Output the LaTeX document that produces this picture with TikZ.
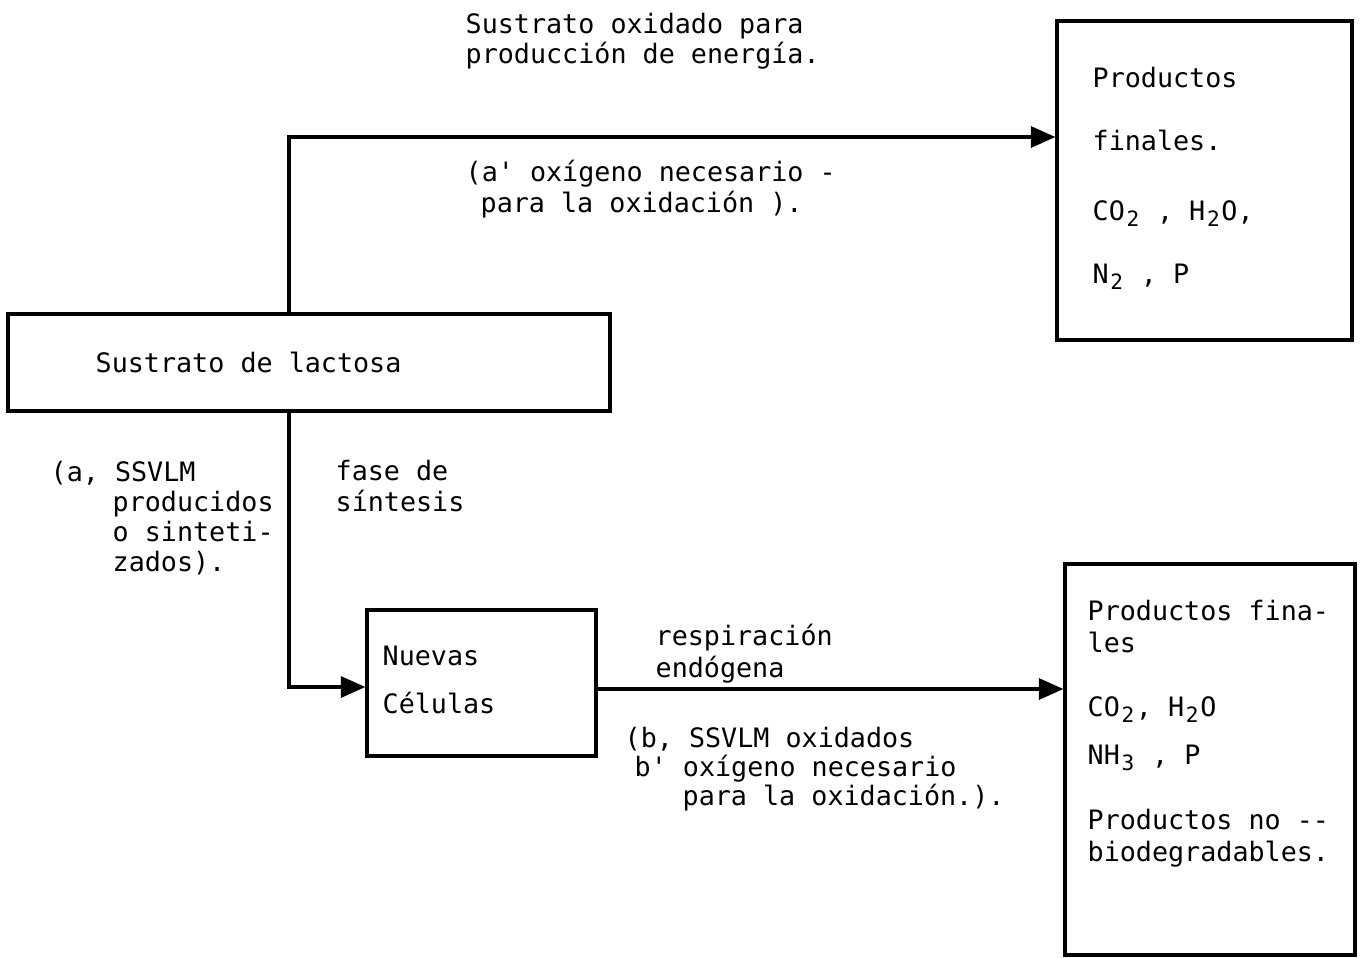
\documentclass[tikz,border=0pt]{standalone}
\usepackage{fontspec}
\newfontfamily\twfont{DejaVu Sans Mono}
\usetikzlibrary{arrows.meta,fit}
\newcommand\lowidx[1]{\makebox[4.575pt][c]{\raisebox{-0.45ex}{\fontsize{6pt}{6pt}\selectfont #1}}}
\tikzset{
  box/.style={draw, line width=0.9pt, inner sep=0pt, rectangle},
  txt/.style={inner sep=0pt, anchor=base west, font=\twfont\fontsize{7.6pt}{9pt}\selectfont},
  conn/.style={line width=0.9pt},
  arr/.style={line width=0.9pt, -{Triangle[length=7pt,width=6pt]}}
}
\begin{document}
\begin{tikzpicture}[x=0.01cm,y=-0.01cm]
\useasboundingbox (0,0) rectangle (1366,957);
% boxes
\node[box, fit={(1057,21) (1352,340)}] (pf1) {};
\node[box, fit={(8,314) (610,411)}] (lac) {};
\node[box, fit={(367,610) (596,756)}] (nc) {};
\node[box, fit={(1065,564) (1355,955)}] (pf2) {};
% helper coordinates
\coordinate (vx) at (289,137);
\coordinate (ly) at (0,687);
\coordinate (ry) at (0,689);
% connectors
\draw[arr] (lac.north -| vx) |- (pf1.west |- vx);
\draw[arr] (lac.south -| vx) |- (nc.west |- ly);
\draw[arr] (nc.east |- ry) -- (pf2.west |- ry);
% top labels
\node[txt] (t1) at (465,33) {Sustrato oxidado para};
\node[txt] (t2) at (465,63) {producción de energía.};
\node[txt] (t3) at (465,181) {(a' oxígeno necesario -};
\node[txt] (t4) at (480,212) {para la oxidación ).};
% lactosa
\node[txt] (l1) at (95,372) {Sustrato de lactosa};
% left labels
\node[txt] (a1) at (50,481) {(a, SSVLM};
\node[txt] (a2) at (112,511) {producidos};
\node[txt] (a3) at (112,541) {o sinteti-};
\node[txt] (a4) at (112,571) {zados).};
\node[txt] (f1) at (335,480) {fase de};
\node[txt] (f2) at (335,511) {síntesis};
% nuevas celulas
\node[txt] (n1) at (382,665) {Nuevas};
\node[txt] (n2) at (382,713) {Células};
% respiracion
\node[txt] (r1) at (655,645) {respiración};
\node[txt] (r2) at (655,677) {endógena};
\node[txt] (b1) at (624,747) {(b, SSVLM oxidados};
\node[txt] (b2) at (634,776) {b' oxígeno necesario};
\node[txt] (b3) at (682,805) {para la oxidación.).};
% products 1
\node[txt] (p1) at (1092,87) {Productos};
\node[txt] (p2) at (1092,150) {finales.};
\node[txt] (p3) at (1092,220) {CO\lowidx{2} , H\lowidx{2}O,};
\node[txt] (p4) at (1092,283) {N\lowidx{2} , P};
% products 2
\node[txt] (q1) at (1087,620) {Productos fina-};
\node[txt] (q2) at (1087,652) {les};
\node[txt] (q3) at (1087,716) {CO\lowidx{2}, H\lowidx{2}O};
\node[txt] (q4) at (1087,764) {NH\lowidx{3} , P};
\node[txt] (q5) at (1087,829) {Productos no --};
\node[txt] (q6) at (1087,861) {biodegradables.};
\end{tikzpicture}
\end{document}
